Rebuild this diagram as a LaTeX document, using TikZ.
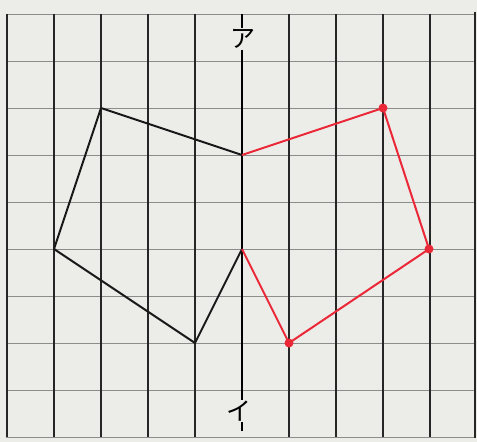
\documentclass[tikz,border=0pt]{standalone}
\usepackage{fontspec}
\newfontfamily\jpfont{Noto Sans CJK JP}
\definecolor{paper}{RGB}{236,236,233}
\definecolor{redline}{RGB}{235,40,55}
\tikzset{
  vline/.style={draw=black!85, line width=1.3pt},
  hline/.style={draw=black!45, line width=1pt},
  axisline/.style={draw=black, line width=1.6pt},
  blackedge/.style={draw=black!90, line width=2pt, line join=round},
  rededge/.style={draw=redline, line width=2pt, line join=round},
  reddot/.style={circle, fill=redline, inner sep=0pt, minimum size=9pt},
  pt/.style={inner sep=0pt, minimum size=0pt},
  lab/.style={font=\jpfont\fontsize{25}{25}\selectfont, inner sep=0pt}
}
\begin{document}
\begin{tikzpicture}[x=1pt,y=-1pt]
\useasboundingbox (0,0) rectangle (477,442);
\fill[paper] (0,0) rectangle (477,442);
% horizontal grid lines
\foreach \j in {0,...,9} {
  \draw[hline] (6,{14+47*\j}) -- (476,{14+47*\j});
}
% vertical grid lines
\foreach \i in {0,1,2,3,4,6,7,8,9} {
  \draw[vline] ({7+47*\i},14) -- ({7+47*\i},437);
}
\draw[vline, line width=2.2pt] (475,12) -- (475,438);
% axis
\coordinate (axtop) at (242,14);
\coordinate (axbot) at (242,431);
\draw[axisline] (axtop) -- (axbot);
\node[lab, fill=paper, inner sep=1pt] (a) at (243,39) {ア};
\node[lab, fill=paper, inner sep=1pt] (b) at (239,411) {イ};
% vertices (grid units: x=7+47i, y=14+47j)
\node[pt] (P1) at (101,108) {};
\node[pt] (P2) at (242,155) {};
\node[pt] (P3) at (242,249) {};
\node[pt] (P4) at (195,343) {};
\node[pt] (P5) at (54,249) {};
\node[pt] (Q1) at (383,108) {};
\node[pt] (Q4) at (289,343) {};
\node[pt] (Q5) at (429,249) {};
\draw[blackedge] (P2.center) -- (P1.center) -- (P5.center) -- (P4.center) -- (P3.center);
\draw[rededge] (P2.center) -- (Q1.center) -- (Q5.center) -- (Q4.center) -- (P3.center);
\node[reddot] at (Q1) {};
\node[reddot] at (Q5) {};
\node[reddot] at (Q4) {};
\end{tikzpicture}
\end{document}
